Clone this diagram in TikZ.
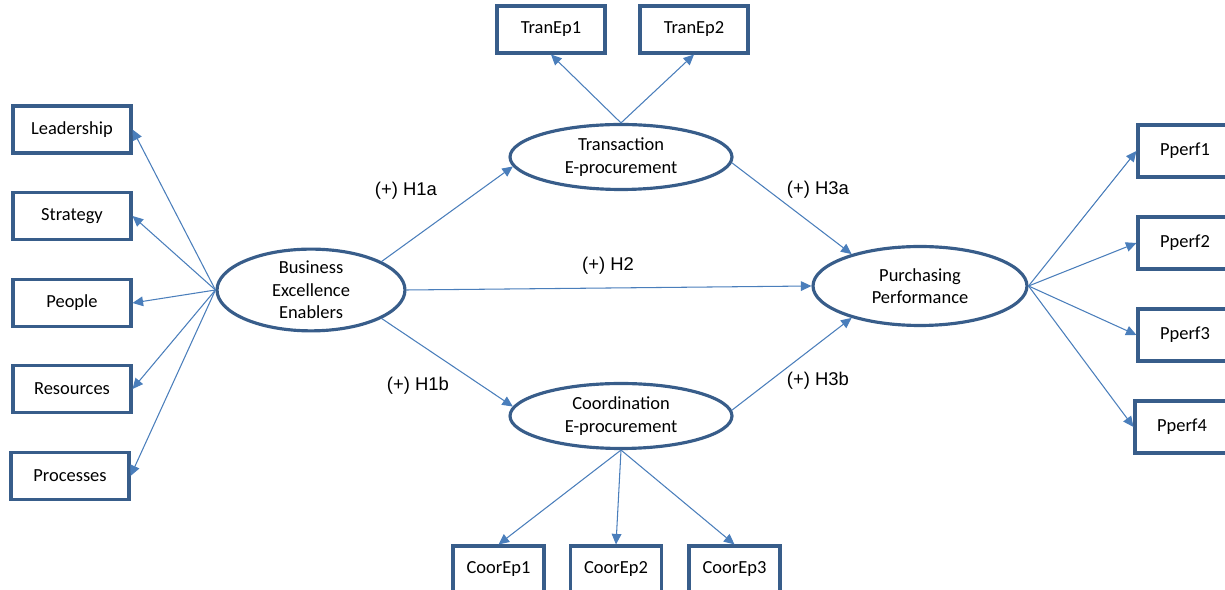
\documentclass[tikz,border=0pt]{standalone}
\usepackage{fontspec}
\setmainfont{Carlito}
\newfontfamily\arialfont{Liberation Sans}
\usetikzlibrary{shapes.geometric,arrows.meta}

\definecolor{boxblue}{HTML}{385D8A}
\definecolor{lineblue}{HTML}{4A7EBB}

\tikzset{
	ind/.style={draw=boxblue, line width=1.75pt, minimum height=0.94cm, inner sep=0pt,
		font=\fontsize{10.5}{12.5}\selectfont},
	latent/.style={ellipse, draw=boxblue, line width=1.8pt, inner sep=0pt, align=center,
		font=\fontsize{10.5}{12.8}\selectfont},
	arr/.style={lineblue, line width=0.6pt, -{Triangle[length=6pt,width=5.5pt]}},
	hyp/.style={font=\arialfont\fontsize{10.5}{12}\selectfont}
}

\begin{document}
\begin{tikzpicture}[x=0.02cm, y=-0.02cm]
			\clip (0,0) rectangle (1225,590);
			
			% latent constructs
			\node[latent, minimum width=3.76cm, minimum height=1.32cm] (bee) at (311,290) {Business\\Excellence\\Enablers};
			\node[latent, minimum width=4.44cm, minimum height=1.30cm] (trans) at (621,157) {Transaction\\E-procurement};
			\node[latent, minimum width=4.44cm, minimum height=1.30cm] (coord) at (621,416) {Coordination\\E-procurement};
			\node[latent, minimum width=4.28cm, minimum height=1.58cm] (purch) at (920,286) {Purchasing\\Performance};
			
			% indicators
			\foreach \name/\txt/\x/\y in {lead/Leadership/72/129.5, strat/Strategy/72/216, peop/People/72/303, res/Resources/72/389, proc/Processes/70/476} {
				\node[ind, minimum width=2.36cm] (\name) at (\x,\y) {\txt};
				\draw[arr] (bee.west) -- (\name.east);
			}
			\foreach \name/\txt/\x in {tep1/TranEp1/551, tep2/TranEp2/694} {
				\node[ind, minimum width=2.16cm] (\name) at (\x,29.5) {\txt};
				\draw[arr] (trans.north) -- (\name.south);
			}
			\foreach \name/\txt/\x in {cep1/CoorEp1/498.5, cep2/CoorEp2/616, cep3/CoorEp3/734.5} {
				\node[ind, minimum width=1.82cm] (\name) at (\x,569.5) {\txt};
				\draw[arr] (coord.south) -- (\name.north);
			}
			\foreach \name/\txt/\x/\y in {pp1/Pperf1/1185/151, pp2/Pperf2/1185/243, pp3/Pperf3/1185/335, pp4/Pperf4/1182/427} {
				\node[ind, minimum width=1.88cm, minimum height=1.04cm] (\name) at (\x,\y) {\txt};
				\draw[arr] (purch.east) -- (\name.west);
			}
			
			% structural paths
			\draw[arr] (bee.22) -- (trans.185);
			\draw[arr] (bee.east) -- (purch.west);
			\draw[arr] (bee.338) -- (coord.175);
			\draw[arr] (trans.357) -- (purch.155);
			\draw[arr] (coord.3) -- (purch.205);
			
			\node[hyp] (h1a) at (406,191) {(+) H1a};
			\node[hyp] (h1b) at (418,386) {(+) H1b};
			\node[hyp] (h2) at (608,266) {(+) H2};
			\node[hyp] (h3a) at (818,190) {(+) H3a};
			\node[hyp] (h3b) at (818,381) {(+) H3b};
		\end{tikzpicture}
\end{document}
